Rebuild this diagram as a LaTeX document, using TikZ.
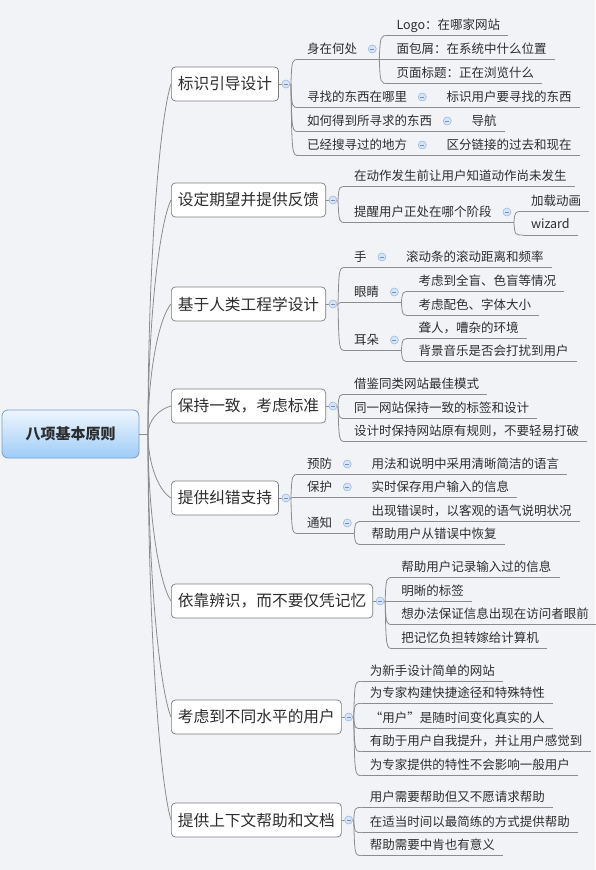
\documentclass[tikz,border=0pt]{standalone}
\usepackage{fontspec}
\setmainfont{Noto Sans CJK SC}
\usetikzlibrary{calc,shadings}
\definecolor{bg}{RGB}{242,243,247}
\definecolor{txt}{RGB}{45,45,45}
\definecolor{lnc}{RGB}{140,140,140}
\definecolor{boxc}{RGB}{125,125,125}
\definecolor{icfill}{RGB}{214,228,246}
\definecolor{icdraw}{RGB}{155,186,228}
\definecolor{icmin}{RGB}{110,145,200}
\definecolor{roottop}{RGB}{238,246,254}
\definecolor{rootbot}{RGB}{158,204,246}
\definecolor{rootdraw}{RGB}{118,158,204}
\newcommand\brk[2]{\draw[conn] (#1) .. controls ($(#1|-#2.south west)+(1,0)$) .. (#2.south west);}
\newcommand\icn[1]{\filldraw[fill=icfill,draw=icdraw,line width=0.6pt] (#1) circle (4); \draw[icmin,line width=0.8pt] ($(#1)+(-2,0)$) -- ($(#1)+(2,0)$);}
\begin{document}
\begin{tikzpicture}[x=1pt,y=-1pt,
  conn/.style={draw=lnc,line width=0.8pt},
  rootst/.style={draw=rootdraw,line width=0.8pt,rounded corners=6pt,top color=roottop,bottom color=rootbot,minimum width=137pt,minimum height=48pt,font=\fontsize{15}{18}\selectfont\bfseries,text=txt},
  mainst/.style={draw=boxc,line width=0.7pt,fill=white,rounded corners=4pt,inner xsep=6.5pt,minimum height=34pt,anchor=west,font=\fontsize{15.7}{18}\selectfont,text=txt},
  sub/.style={inner xsep=8pt,inner ysep=4pt,text height=9pt,text depth=2pt,anchor=south west,font=\fontsize{12.5}{14}\selectfont,text=txt}]
\fill[bg] (0,0) rectangle (595,870);
\useasboundingbox (0,0) rectangle (595,870);

% root and main branches
\node[rootst] (root) at (70.5,434) {八项基本原则};
\coordinate (rj) at (148,434);
\node[mainst] (m1) at (171,84) {标识引导设计};
\node[mainst] (m2) at (171,200) {设定期望并提供反馈};
\node[mainst] (m3) at (171,304) {基于人类工程学设计};
\node[mainst] (m4) at (171,406) {保持一致，考虑标准};
\node[mainst] (m5) at (171,498) {提供纠错支持};
\node[mainst] (m6) at (171,601) {依靠辨识，而不要仅凭记忆};
\node[mainst] (m7) at (171,717) {考虑到不同水平的用户};
\node[mainst] (m8) at (171,820) {提供上下文帮助和文档};
\draw[conn] (root.east) -- (rj);
\foreach \m in {m1,m2,m3,m4,m5,m6,m7,m8}{
  \draw[conn] (rj) .. controls ($(rj)!0.5!(rj|-\m.west)$) and ($(\m.west)!0.1!(rj)+(-9,0)$) .. (\m.west);
  \coordinate (\m J) at ($(\m.east)+(12,0)$);
  \draw[conn] (\m.east) -- (\m J);
}

% branch 1
\node[sub] (a1) at ($(m1.east)+(20,-24.5)$) {身在何处};
\node[sub] (a2) at ($(m1.east)+(20,23.5)$) {寻找的东西在哪里};
\node[sub] (a3) at ($(m1.east)+(20,47.5)$) {如何得到所寻求的东西};
\node[sub] (a4) at ($(m1.east)+(20,71.5)$) {已经搜寻过的地方};
\node[sub] (a11) at ($(a1.south east)+(23,-24)$) {Logo：在哪家网站};
\node[sub] (a12) at ($(a1.south east)+(23,0)$) {面包屑：在系统中什么位置};
\node[sub] (a13) at ($(a1.south east)+(23,24)$) {页面标题：正在浏览什么};
\node[sub] (a21) at ($(a2.south east)+(23,0)$) {标识用户要寻找的东西};
\node[sub] (a31) at ($(a3.south east)+(23,0)$) {导航};
\node[sub] (a41) at ($(a4.south east)+(23,0)$) {区分链接的过去和现在};

% branch 2
\node[sub] (b1) at ($(m2.east)+(20,-13.5)$) {在动作发生前让用户知道动作尚未发生};
\node[sub] (b2) at ($(m2.east)+(20,22.5)$) {提醒用户正处在哪个阶段};
\node[sub] (b21) at ($(b2.south east)+(23,-11)$) {加载动画};
\node[sub] (b22) at ($(b2.south east)+(23,12.5)$) {wizard};

% branch 3
\node[sub] (c1) at ($(m3.east)+(20,-36.5)$) {手};
\node[sub] (c2) at ($(m3.east)+(20,-1.5)$) {眼睛};
\node[sub] (c3) at ($(m3.east)+(20,46.5)$) {耳朵};
\node[sub] (c11) at ($(c1.south east)+(23,0)$) {滚动条的滚动距离和频率};
\node[sub] (c21) at ($(c2.south east)+(23,-11)$) {考虑到全盲、色盲等情况};
\node[sub] (c22) at ($(c2.south east)+(23,13)$) {考虑配色、字体大小};
\node[sub] (c31) at ($(c3.south east)+(23,-12)$) {聋人，嘈杂的环境};
\node[sub] (c32) at ($(c3.south east)+(23,11)$) {背景音乐是否会打扰到用户};

% branch 4
\node[sub] (d1) at ($(m4.east)+(20,-11.5)$) {借鉴同类网站最佳模式};
\node[sub] (d2) at ($(m4.east)+(20,12.5)$) {同一网站保持一致的标签和设计};
\node[sub] (d3) at ($(m4.east)+(20,35.5)$) {设计时保持网站原有规则，不要轻易打破};

% branch 5
\node[sub] (e1) at ($(m5.east)+(20,-23.5)$) {预防};
\node[sub] (e2) at ($(m5.east)+(20,-0.5)$) {保护};
\node[sub] (e3) at ($(m5.east)+(20,35.5)$) {通知};
\node[sub] (e11) at ($(e1.south east)+(23,0)$) {用法和说明中采用清晰简洁的语言};
\node[sub] (e21) at ($(e2.south east)+(23,0)$) {实时保存用户输入的信息};
\node[sub] (e31) at ($(e3.south east)+(23,-12)$) {出现错误时，以客观的语气说明状况};
\node[sub] (e32) at ($(e3.south east)+(23,11)$) {帮助用户从错误中恢复};

% branch 6
\node[sub] (f1) at ($(m6.east)+(20,-23.5)$) {帮助用户记录输入过的信息};
\node[sub] (f2) at ($(m6.east)+(20,0.5)$) {明晰的标签};
\node[sub] (f3) at ($(m6.east)+(20,23.5)$) {想办法保证信息出现在访问者眼前};
\node[sub] (f4) at ($(m6.east)+(20,47.5)$) {把记忆负担转嫁给计算机};

% branch 7
\node[sub] (g1) at ($(m7.east)+(20,-35.5)$) {为新手设计简单的网站};
\node[sub] (g2) at ($(m7.east)+(20,-13.5)$) {为专家构建快捷途径和特殊特性};
\node[sub] (g3) at ($(m7.east)+(20,11.5)$) {“用户”是随时间变化真实的人};
\node[sub] (g4) at ($(m7.east)+(20,34.5)$) {有助于用户自我提升，并让用户感觉到};
\node[sub] (g5) at ($(m7.east)+(20,58.5)$) {为专家提供的特性不会影响一般用户};

% branch 8
\node[sub] (h1) at ($(m8.east)+(20,-12.5)$) {用户需要帮助但又不愿请求帮助};
\node[sub] (h2) at ($(m8.east)+(20,12.5)$) {在适当时间以最简练的方式提供帮助};
\node[sub] (h3) at ($(m8.east)+(20,35.5)$) {帮助需要中肯也有意义};

% underlines
\foreach \n in {a1,a2,a3,a4,a11,a12,a13,a21,a31,a41,b1,b2,b21,b22,c1,c2,c3,c11,c21,c22,c31,c32,d1,d2,d3,e1,e2,e3,e11,e21,e31,e32,f1,f2,f3,f4,g1,g2,g3,g4,g5,h1,h2,h3}
  \draw[conn] (\n.south west) -- (\n.south east);

% junctions of sub topics with children
\foreach \p in {a1,a2,a3,a4,b2,c1,c2,c3,e1,e2,e3}{
  \coordinate (\p J) at ($(\p.south east)+(14,0)$);
  \draw[conn] (\p.south east) -- (\p J);
}

% brackets
\foreach \c in {a1,a2,a3,a4} {\brk{m1J}{\c}}
\foreach \c in {b1,b2} {\brk{m2J}{\c}}
\foreach \c in {c1,c2,c3} {\brk{m3J}{\c}}
\foreach \c in {d1,d2,d3} {\brk{m4J}{\c}}
\foreach \c in {e1,e2,e3} {\brk{m5J}{\c}}
\foreach \c in {f1,f2,f3,f4} {\brk{m6J}{\c}}
\foreach \c in {g1,g2,g3,g4,g5} {\brk{m7J}{\c}}
\foreach \c in {h1,h2,h3} {\brk{m8J}{\c}}
\foreach \c in {a11,a12,a13} {\brk{a1J}{\c}}
\brk{a2J}{a21}
\brk{a3J}{a31}
\brk{a4J}{a41}
\foreach \c in {b21,b22} {\brk{b2J}{\c}}
\brk{c1J}{c11}
\foreach \c in {c21,c22} {\brk{c2J}{\c}}
\foreach \c in {c31,c32} {\brk{c3J}{\c}}
\brk{e1J}{e11}
\brk{e2J}{e21}
\foreach \c in {e31,e32} {\brk{e3J}{\c}}

% collapse icons
\foreach \m in {m1,m2,m3,m4,m5,m6,m7,m8} {\icn{$(\m.east)+(7,0)$}}
\foreach \p in {a1,a2,a3,a4,b2,c1,c2,c3,e1,e2,e3} {\icn{$(\p.south east)+(7,-10.5)$}}
\end{tikzpicture}
\end{document}
